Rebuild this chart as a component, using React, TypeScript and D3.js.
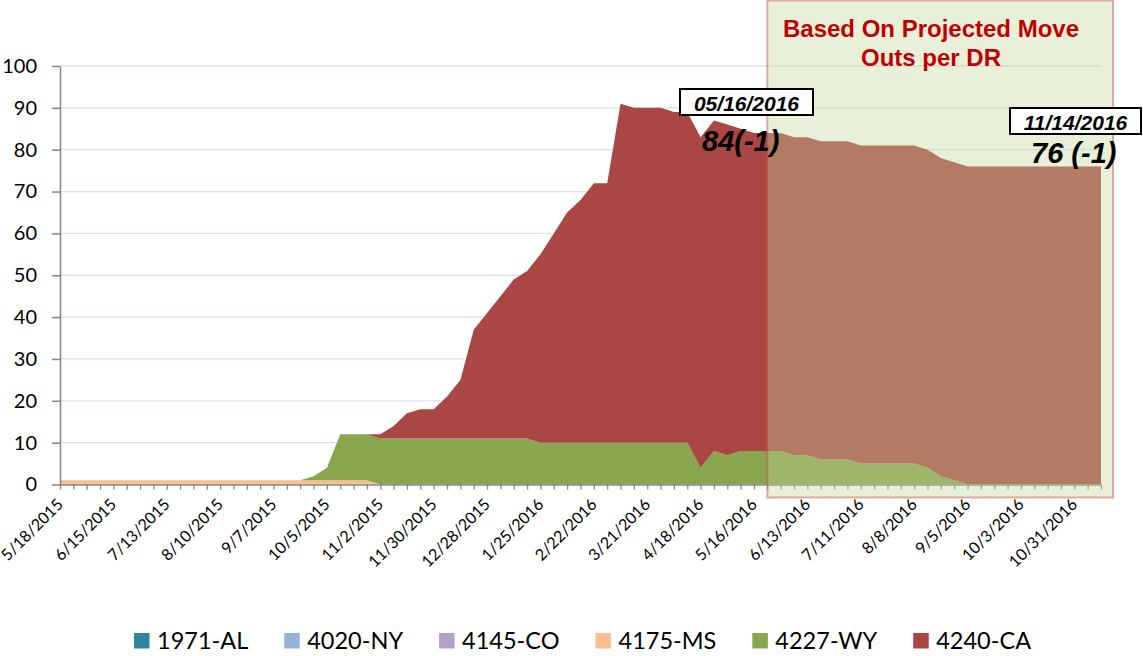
import * as d3 from "d3";
import { useEffect, useRef } from "react";

const W = 1143;
const H = 656;
const plot = { left: 60, right: 1101, top: 66, bottom: 484.5 };
const AXIS_FONT = "Lato, 'Open Sans', sans-serif";
const NOTE_FONT = "'Liberation Sans', Arial, sans-serif";

// weekly categories, first one is 5/18/2015, last one 11/14/2016
const firstWeek = new Date(2015, 4, 18);
const weekCount = 79;

const tickLabels = [
  "5/18/2015", "6/15/2015", "7/13/2015", "8/10/2015", "9/7/2015",
  "10/5/2015", "11/2/2015", "11/30/2015", "12/28/2015", "1/25/2016",
  "2/22/2016", "3/21/2016", "4/18/2016", "5/16/2016", "6/13/2016",
  "7/11/2016", "8/8/2016", "9/5/2016", "10/3/2016", "10/31/2016",
];

const seriesNames = ["1971-AL", "4020-NY", "4145-CO", "4175-MS", "4227-WY", "4240-CA"];
const seriesColors = ["#31859c", "#95b3d7", "#b3a2c7", "#fac090", "#89a54e", "#aa4643"];

const al = [
  0, 0, 0, 0, 0, 0, 0, 0, 0, 0, 0, 0, 0, 0, 0, 0, 0, 0, 0, 0,
  0, 0, 0, 0, 0, 0, 0, 0, 0, 0, 0, 0, 0, 0, 0, 0, 0, 0, 0, 0,
  0, 0, 0, 0, 0, 0, 0, 0, 0, 0, 0, 0, 0, 0, 0, 0, 0, 0, 0, 0,
  0, 0, 0, 0, 0, 0, 0, 0, 0, 0, 0, 0, 0, 0, 0, 0, 0, 0, 0,
];
const ny = [
  0, 0, 0, 0, 0, 0, 0, 0, 0, 0, 0, 0, 0, 0, 0, 0, 0, 0, 0, 0,
  0, 0, 0, 0, 0, 0, 0, 0, 0, 0, 0, 0, 0, 0, 0, 0, 0, 0, 0, 0,
  0, 0, 0, 0, 0, 0, 0, 0, 0, 0, 0, 0, 0, 0, 0, 0, 0, 0, 0, 0,
  0, 0, 0, 0, 0, 0, 0, 0, 0, 0, 0, 0, 0, 0, 0, 0, 0, 0, 0,
];
const co = [
  0, 0, 0, 0, 0, 0, 0, 0, 0, 0, 0, 0, 0, 0, 0, 0, 0, 0, 0, 0,
  0, 0, 0, 0, 0, 0, 0, 0, 0, 0, 0, 0, 0, 0, 0, 0, 0, 0, 0, 0,
  0, 0, 0, 0, 0, 0, 0, 0, 0, 0, 0, 0, 0, 0, 0, 0, 0, 0, 0, 0,
  0, 0, 0, 0, 0, 0, 0, 0, 0, 0, 0, 0, 0, 0, 0, 0, 0, 0, 0,
];
const ms = [
  1, 1, 1, 1, 1, 1, 1, 1, 1, 1, 1, 1, 1, 1, 1, 1, 1, 1, 1, 1,
  1, 1, 1, 1, 0, 0, 0, 0, 0, 0, 0, 0, 0, 0, 0, 0, 0, 0, 0, 0,
  0, 0, 0, 0, 0, 0, 0, 0, 0, 0, 0, 0, 0, 0, 0, 0, 0, 0, 0, 0,
  0, 0, 0, 0, 0, 0, 0, 0, 0, 0, 0, 0, 0, 0, 0, 0, 0, 0, 0,
];
const wy = [
  0, 0, 0, 0, 0, 0, 0, 0, 0, 0, 0, 0, 0, 0, 0, 0, 0, 0, 0, 1,
  3, 11, 11, 11, 11, 11, 11, 11, 11, 11, 11, 11, 11, 11, 11, 11, 10, 10, 10, 10,
  10, 10, 10, 10, 10, 10, 10, 10, 4, 8, 7, 8, 8, 8, 8, 7, 7, 6, 6, 6,
  5, 5, 5, 5, 5, 4, 2, 1, 0, 0, 0, 0, 0, 0, 0, 0, 0, 0, 0,
];
const ca = [
  0, 0, 0, 0, 0, 0, 0, 0, 0, 0, 0, 0, 0, 0, 0, 0, 0, 0, 0, 0,
  0, 0, 0, 0, 1, 3, 6, 7, 7, 10, 14, 26, 30, 34, 38, 40, 45, 50, 55, 58,
  62, 62, 81, 80, 80, 80, 79, 79, 79, 79, 79, 77, 76, 76, 76, 76, 76, 76, 76, 76,
  76, 76, 76, 76, 76, 76, 76, 76, 76, 76, 76, 76, 76, 76, 76, 76, 76, 76, 76,
];
const seriesValues = [al, ny, co, ms, wy, ca];

const projectionStart = "5/23/2016";
const noteLines = ["Based On Projected Move", "Outs per DR"];

const App = () => {
  const svgRef = useRef(null);

  useEffect(() => {
    const svg = d3.select(svgRef.current);
    svg.selectAll("*").remove();

    const parse = d3.timeParse("%m/%d/%Y");
    const weeks = d3.range(weekCount).map((i) => d3.timeDay.offset(firstWeek, i * 7));
    const table = weeks.map((date, i) => {
      const row: any = { date };
      seriesNames.forEach((name, k) => {
        row[name] = seriesValues[k][i];
      });
      return row;
    });

    const x = d3.scaleTime().domain([weeks[0], weeks[weekCount - 1]]).range([plot.left, plot.right]);
    const y = d3.scaleLinear().domain([0, 100]).range([plot.bottom, plot.top]);

    // gridlines
    svg
      .append("g")
      .selectAll("line")
      .data(d3.range(10, 101, 10))
      .join("line")
      .attr("x1", plot.left)
      .attr("x2", plot.right)
      .attr("y1", (d) => y(d))
      .attr("y2", (d) => y(d))
      .attr("stroke", "#d9e2f1")
      .attr("stroke-width", 1.3);

    const stacked = d3.stack().keys(seriesNames)(table);
    const area = d3
      .area()
      .x((d: any) => x(d.data.date))
      .y0((d: any) => y(d[0]))
      .y1((d: any) => y(d[1]));

    svg
      .append("g")
      .selectAll("path")
      .data(stacked)
      .join("path")
      .attr("d", area as any)
      .attr("fill", (d, i) => seriesColors[i]);

    // y axis
    const yAxis = svg
      .append("g")
      .attr("transform", `translate(${plot.left},0)`)
      .call(
        d3.axisLeft(y).tickValues(d3.range(0, 101, 10)).tickSize(8).tickSizeOuter(0).tickPadding(15)
      );
    yAxis.select(".domain").attr("stroke", "#868686").attr("stroke-width", 1.5);
    yAxis.selectAll(".tick line").attr("stroke", "#868686").attr("stroke-width", 1.5);
    yAxis
      .selectAll(".tick text")
      .attr("fill", "#000")
      .style("font-family", AXIS_FONT)
      .style("font-size", "20px");

    // x axis, one tick per week
    const xAxis = svg
      .append("g")
      .attr("transform", `translate(0,${plot.bottom})`)
      .call(d3.axisBottom(x).tickValues(weeks).tickSize(5).tickSizeOuter(0).tickFormat(() => ""));
    xAxis.select(".domain").attr("stroke", "#868686").attr("stroke-width", 1.5);
    xAxis.selectAll(".tick line").attr("stroke", "#868686").attr("stroke-width", 1.3);

    svg
      .append("g")
      .selectAll("text")
      .data(tickLabels)
      .join("text")
      .attr("transform", (d) => `translate(${x(parse(d)) + 4},${plot.bottom + 21}) rotate(-45)`)
      .attr("text-anchor", "end")
      .style("font-family", AXIS_FONT)
      .style("font-size", "16px")
      .attr("fill", "#000")
      .text((d) => d);

    // shaded projection box
    const boxLeft = x(parse(projectionStart));
    svg
      .append("rect")
      .attr("x", boxLeft)
      .attr("y", 0.5)
      .attr("width", plot.right + 12 - boxLeft)
      .attr("height", 497)
      .attr("fill", "rgba(195,214,155,0.37)")
      .attr("stroke", "rgba(200,70,66,0.45)")
      .attr("stroke-width", 2);

    svg
      .append("g")
      .selectAll("text")
      .data(noteLines)
      .join("text")
      .attr("x", 931)
      .attr("y", (d, i) => 37 + i * 29)
      .attr("text-anchor", "middle")
      .style("font-family", NOTE_FONT)
      .style("font-weight", "bold")
      .style("font-size", "24px")
      .attr("fill", "#c00000")
      .text((d) => d);

    // callouts
    const callouts = [
      { box: [680, 89, 133, 26], date: "05/16/2016", val: "84(-1)", vx: 702, vy: 151 },
      { box: [1010, 108, 131, 26], date: "11/14/2016", val: "76 (-1)", vx: 1031, vy: 163 },
    ];
    callouts.forEach((c) => {
      const [bx, by, bw, bh] = c.box;
      svg
        .append("rect")
        .attr("x", bx)
        .attr("y", by)
        .attr("width", bw)
        .attr("height", bh)
        .attr("fill", "#fff")
        .attr("stroke", "#000")
        .attr("stroke-width", 2);
      svg
        .append("text")
        .attr("x", bx + bw / 2)
        .attr("y", by + bh - 4.5)
        .attr("text-anchor", "middle")
        .style("font-family", NOTE_FONT)
        .style("font-weight", "bold")
        .style("font-style", "italic")
        .style("font-size", "21px")
        .attr("fill", "#000")
        .text(c.date);
      svg
        .append("text")
        .attr("x", c.vx)
        .attr("y", c.vy)
        .style("font-family", NOTE_FONT)
        .style("font-weight", "bold")
        .style("font-style", "italic")
        .style("font-size", "29px")
        .attr("fill", "#000")
        .text(c.val);
    });

    // legend, laid out left to right by text width
    const legend = svg.append("g");
    let lx = 134;
    seriesNames.forEach((name, i) => {
      legend
        .append("rect")
        .attr("x", lx)
        .attr("y", 633)
        .attr("width", 15.5)
        .attr("height", 15.5)
        .attr("fill", seriesColors[i]);
      const t = legend
        .append("text")
        .attr("x", lx + 23)
        .attr("y", 648.5)
        .style("font-family", AXIS_FONT)
        .style("font-size", "23.5px")
        .attr("fill", "#000")
        .text(name);
      const len = (t.node() as SVGTextElement).getComputedTextLength();
      lx = lx + 23 + len + 36;
    });
  }, []);

  return (
    <svg
      ref={svgRef}
      width={W}
      height={H}
      style={{ position: "absolute", left: 0, top: 0, background: "#fff" }}
    />
  );
};

export default App;
